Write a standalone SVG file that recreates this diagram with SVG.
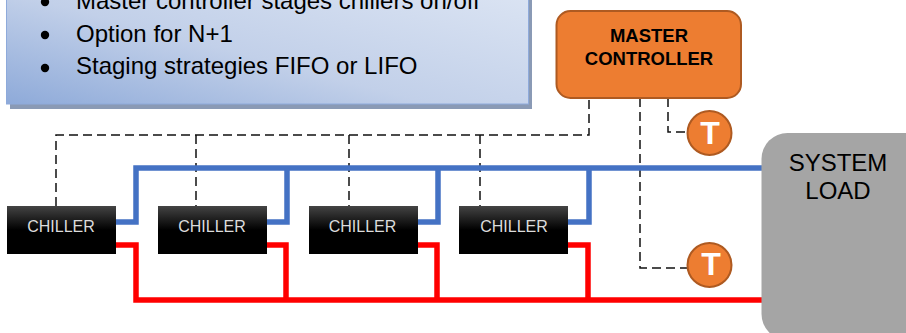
<svg xmlns="http://www.w3.org/2000/svg" width="906" height="333" viewBox="0 0 906 333">
<style>
.txt{font-family:"Liberation Sans",Arial,sans-serif}
.bul{font-size:24px;fill:#000}
.ch{fill:url(#chg)}
.cht{font-size:16px;fill:#dcdcdc;text-anchor:middle}
.dash{fill:none;stroke:#111;stroke-width:1.500;stroke-dasharray:9 5}
.blue{fill:none;stroke:#4472c4;stroke-width:5.500}
.red{fill:none;stroke:#f00;stroke-width:5.500}
.t{fill:#ed7d31;stroke:#ae5a21;stroke-width:2}
.tt{font-size:32px;font-weight:700;fill:#fff;text-anchor:middle}
</style>
<defs>
<linearGradient id="pg" x1="0" y1="1" x2="1" y2="0.1">
<stop offset="0" stop-color="#8eaad9"/><stop offset="0.45" stop-color="#c2d0e9"/><stop offset="1" stop-color="#dbe4f3"/>
</linearGradient>
<linearGradient id="chg" x1="0" y1="0" x2="0" y2="1">
<stop offset="0" stop-color="#444"/><stop offset="0.5" stop-color="#000"/><stop offset="1" stop-color="#000"/>
</linearGradient>
</defs>
<g id="panel">
<rect x="10" y="-20" width="522" height="129" fill="#8a9ab5"/>
<rect x="6.500" y="-20" width="522" height="124" fill="url(#pg)" stroke="#8eaadb" stroke-width="1"/>
<circle cx="45" cy="2" r="4.200" fill="#000"/>
<circle cx="45" cy="35" r="4.200" fill="#000"/>
<circle cx="45" cy="68" r="4.200" fill="#000"/>
<text class="txt bul" x="76" y="9">Master controller stages chillers on/off</text>
<text class="txt bul" x="76" y="42">Option for N+1</text>
<text class="txt bul" x="76" y="74">Staging strategies FIFO or LIFO</text>
</g>
<g id="connectors">
<path class="dash" d="M56 206V135H589V98"/>
<path class="dash" d="M196 135V206"/>
<path class="dash" d="M349 135V206"/>
<path class="dash" d="M480 135V206"/>
<path class="dash" d="M640 98V268H688"/>
<path class="dash" d="M668 98V132H688"/>
<path class="blue" d="M116 222H136V168H762"/>
<path class="blue" d="M267 222H287V168"/>
<path class="blue" d="M418 222H438V168"/>
<path class="blue" d="M568 222H589V168"/>
<path class="red" d="M116 245H136V300H762"/>
<path class="red" d="M267 245H286V300"/>
<path class="red" d="M418 245H437V300"/>
<path class="red" d="M568 245H588V300"/>
</g>
<g id="chiller1"><rect class="ch" x="7" y="206" width="109" height="48"/><text class="txt cht" x="61" y="232">CHILLER</text></g>
<g id="chiller2"><rect class="ch" x="158" y="206" width="109" height="48"/><text class="txt cht" x="212" y="232">CHILLER</text></g>
<g id="chiller3"><rect class="ch" x="309" y="206" width="109" height="48"/><text class="txt cht" x="362.500" y="232">CHILLER</text></g>
<g id="chiller4"><rect class="ch" x="459" y="206" width="109" height="48"/><text class="txt cht" x="514" y="232">CHILLER</text></g>
<g id="master-controller">
<rect x="556.500" y="11" width="184.500" height="87" rx="14" fill="#ed7d31" stroke="#ae5a21" stroke-width="2"/>
<text class="txt" x="649" y="42" font-size="18.500" font-weight="700" text-anchor="middle">MASTER</text>
<text class="txt" x="649" y="64.500" font-size="18.500" font-weight="700" text-anchor="middle">CONTROLLER</text>
</g>
<g id="sensor1"><circle class="t" cx="709.500" cy="133" r="22"/><text class="txt tt" x="710" y="143.500">T</text></g>
<g id="sensor2"><circle class="t" cx="709.500" cy="265" r="22"/><text class="txt tt" x="711" y="275">T</text></g>
<g id="system-load">
<rect x="761.500" y="133" width="170" height="207" rx="26" fill="#a5a5a5"/>
<text class="txt" x="838" y="171" font-size="24" text-anchor="middle">SYSTEM</text>
<text class="txt" x="838" y="199" font-size="24" text-anchor="middle">LOAD</text>
</g>
</svg>
